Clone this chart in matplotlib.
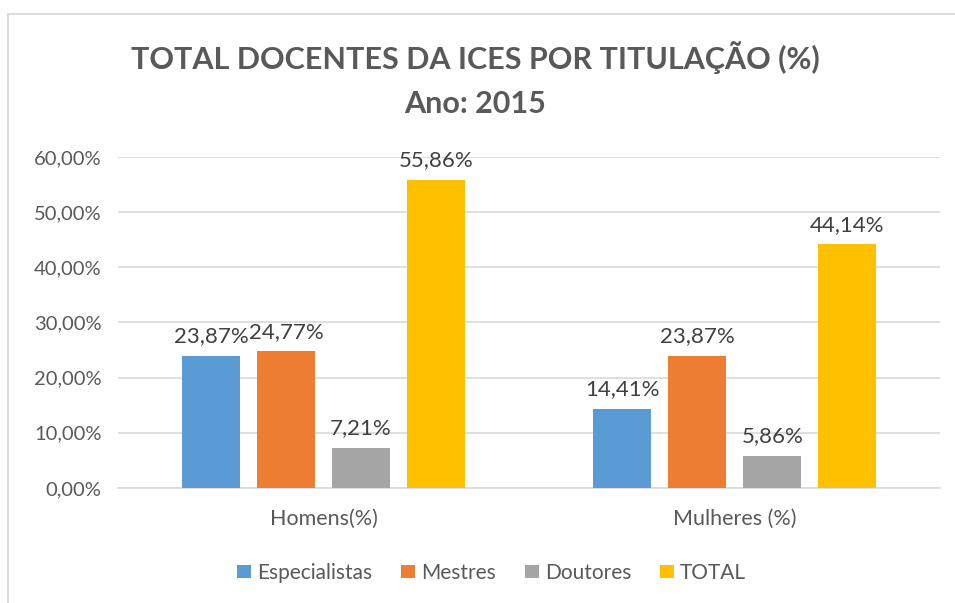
import numpy as np
import matplotlib
matplotlib.use('Agg')
import matplotlib.pyplot as plt
from matplotlib.lines import Line2D
from matplotlib.ticker import FuncFormatter

plt.rcParams['font.family'] = ['Lato', 'DejaVu Sans']

categorias = ['Homens(%)', 'Mulheres (%)']
series = ['Especialistas', 'Mestres', 'Doutores', 'TOTAL']
especialistas = [23.87, 14.41]
mestres = [24.77, 23.87]
doutores = [7.21, 5.86]
total = [55.86, 44.14]
valores = [especialistas, mestres, doutores, total]
cores = ['#5b9bd5', '#ed7d31', '#a5a5a5', '#ffc000']

fig = plt.figure(figsize=(9.55, 6.03), dpi=100)
ax = fig.add_axes([0.1236, 0.1907, 0.861, 0.549])

# moldura do gráfico (só topo e esquerda aparecem no recorte)
topo = 1 - 13.5 / 603
esq = 7.5 / 955
fig.lines.append(Line2D([esq, 1.01], [topo, topo], transform=fig.transFigure,
                        color='#d9d9d9', linewidth=1.3))
fig.lines.append(Line2D([esq, esq], [-0.01, topo], transform=fig.transFigure,
                        color='#d9d9d9', linewidth=1.3))

x = np.arange(len(categorias))
passo = 0.1825
largura = 0.141
for i, (nome, vals, cor) in enumerate(zip(series, valores, cores)):
    pos = x + (i - 1.5) * passo
    barras = ax.bar(pos, np.array(vals) / 100, width=largura, color=cor, label=nome, zorder=3)
    for b, v in zip(barras, vals):
        ax.annotate(f'{v:.2f}%'.replace('.', ','), (b.get_x() + b.get_width() / 2, b.get_height()),
                    xytext=(0, 7), textcoords='offset points', ha='center', va='bottom',
                    fontsize=16, color='#404040')

ax.set_xlim(-0.5, 1.5)
ax.set_ylim(0, 0.6)
ax.set_yticks(np.arange(0, 0.61, 0.1))
ax.yaxis.set_major_formatter(FuncFormatter(lambda v, p: f'{v * 100:.2f}%'.replace('.', ',')))
ax.set_xticks(x)
ax.set_xticklabels(categorias)
ax.grid(axis='y', color='#d9d9d9', linewidth=1.2, zorder=0)
for s in ['top', 'right', 'left']:
    ax.spines[s].set_visible(False)
ax.spines['bottom'].set_color('#d9d9d9')
ax.spines['bottom'].set_linewidth(1.2)
ax.tick_params(axis='y', length=0, labelsize=14.5, colors='#595959', pad=12)
ax.tick_params(axis='x', length=0, labelsize=15.5, colors='#595959', pad=15)

fig.text(0.498, 0.905, 'TOTAL DOCENTES DA ICES POR TITULAÇÃO (%)', ha='center', va='center',
         fontsize=22, fontweight='bold', color='#595959')
fig.text(0.498, 0.828, 'Ano: 2015', ha='center', va='center',
         fontsize=22, fontweight='bold', color='#595959')

fig.legend(loc='center', bbox_to_anchor=(0.515, 0.05), ncol=4, frameon=False,
           fontsize=15, handlelength=0.65, handleheight=0.65, handletextpad=0.3,
           columnspacing=1.4, labelcolor='#595959')

fig.savefig('out.png', dpi=100)
